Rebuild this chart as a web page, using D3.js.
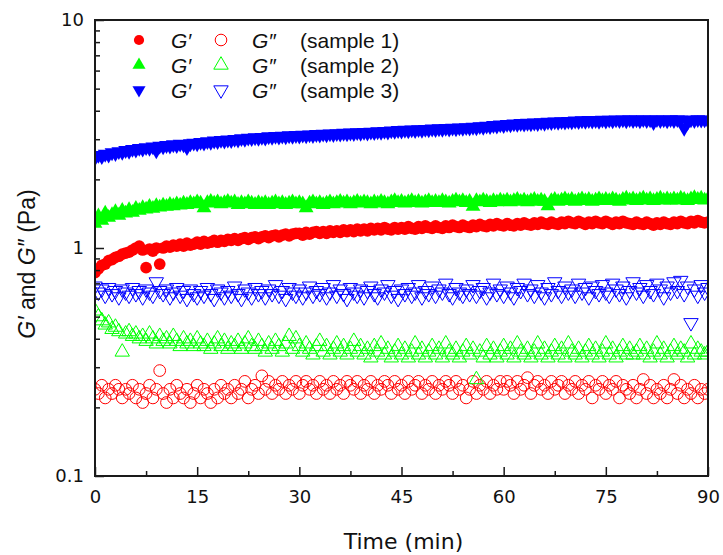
<!DOCTYPE html>
<html>
<head>
<meta charset="utf-8">
<script src="https://cdn.jsdelivr.net/npm/d3@7"></script>
<style>
  html, body { margin: 0; padding: 0; background: #fff; }
  svg { display: block; }
</style>
</head>
<body>
<svg id="chart" width="723" height="555"></svg>
<script>
// ---------------- DATA ----------------
const xTickLabels = [0, 15, 30, 45, 60, 75, 90];
const xMinorTicks = [7.5, 22.5, 37.5, 52.5, 67.5, 82.5];
const yTickLabels = [0.1, 1, 10];
const yMinorTicks = [0.2,0.3,0.4,0.5,0.6,0.7,0.8,0.9,2,3,4,5,6,7,8,9];

// sampling times (min)
const times = [
0,0.5,1,1.5,2,2.5,3,3.5,4,4.5,5,5.5,6,6.5,7,7.5,8,8.5,9,9.5,
10,10.5,11,11.5,12,12.5,13,13.5,14,14.5,15,15.5,16,16.5,17,17.5,18,18.5,19,19.5,
20,20.5,21,21.5,22,22.5,23,23.5,24,24.5,25,25.5,26,26.5,27,27.5,28,28.5,29,29.5,
30,30.5,31,31.5,32,32.5,33,33.5,34,34.5,35,35.5,36,36.5,37,37.5,38,38.5,39,39.5,
40,40.5,41,41.5,42,42.5,43,43.5,44,44.5,45,45.5,46,46.5,47,47.5,48,48.5,49,49.5,
50,50.5,51,51.5,52,52.5,53,53.5,54,54.5,55,55.5,56,56.5,57,57.5,58,58.5,59,59.5,
60,60.5,61,61.5,62,62.5,63,63.5,64,64.5,65,65.5,66,66.5,67,67.5,68,68.5,69,69.5,
70,70.5,71,71.5,72,72.5,73,73.5,74,74.5,75,75.5,76,76.5,77,77.5,78,78.5,79,79.5,
80,80.5,81,81.5,82,82.5,83,83.5,84,84.5,85,85.5,86,86.5,87,87.5,88,88.5,89,89.5,
90];

// sample 1 G' (Pa)
const s1Gp = [
0.78,0.81,0.84,0.85,0.88,0.89,0.91,0.92,0.94,0.95,
0.96,0.98,1.00,1.02,0.98,0.82,0.99,0.97,1.00,0.85,
1.00,1.02,1.01,1.03,1.02,1.04,1.02,1.05,1.03,1.04,
1.06,1.04,1.07,1.05,1.06,1.08,1.06,1.08,1.07,1.09,
1.08,1.10,1.08,1.10,1.11,1.09,1.11,1.12,1.10,1.12,
1.13,1.11,1.13,1.14,1.12,1.14,1.15,1.13,1.15,1.16,
1.16,1.14,1.17,1.15,1.17,1.18,1.16,1.18,1.16,1.19,
1.17,1.19,1.17,1.20,1.18,1.20,1.18,1.21,1.19,1.21,
1.19,1.22,1.20,1.22,1.20,1.23,1.21,1.20,1.23,1.21,
1.23,1.21,1.24,1.22,1.21,1.24,1.22,1.25,1.23,1.22,
1.25,1.23,1.22,1.25,1.23,1.26,1.24,1.23,1.26,1.24,
1.23,1.26,1.24,1.27,1.25,1.24,1.27,1.25,1.28,1.26,
1.25,1.28,1.26,1.25,1.28,1.26,1.29,1.27,1.26,1.29,
1.27,1.30,1.28,1.27,1.30,1.28,1.27,1.30,1.28,1.31,
1.29,1.28,1.31,1.29,1.27,1.30,1.28,1.31,1.29,1.28,
1.31,1.29,1.27,1.30,1.28,1.31,1.29,1.28,1.27,1.30,
1.28,1.27,1.30,1.28,1.26,1.29,1.27,1.30,1.28,1.27,
1.30,1.28,1.31,1.29,1.28,1.31,1.29,1.32,1.30,1.29,
1.30];

// sample 1 G'' (Pa)
const s1Gpp = [
0.24,0.23,0.25,0.22,0.24,0.23,0.25,0.24,0.22,0.24,
0.23,0.25,0.22,0.24,0.21,0.23,0.25,0.22,0.24,0.29,
0.23,0.21,0.24,0.22,0.25,0.23,0.22,0.24,0.21,0.23,
0.25,0.22,0.24,0.23,0.21,0.24,0.22,0.25,0.23,0.24,
0.22,0.25,0.23,0.24,0.26,0.22,0.24,0.25,0.23,0.275,
0.24,0.26,0.23,0.25,0.24,0.26,0.23,0.25,0.24,0.26,
0.23,0.25,0.26,0.24,0.25,0.23,0.26,0.24,0.25,0.23,
0.26,0.24,0.25,0.23,0.26,0.25,0.24,0.26,0.23,0.25,
0.24,0.26,0.23,0.25,0.24,0.26,0.25,0.23,0.26,0.24,
0.25,0.23,0.26,0.24,0.25,0.26,0.23,0.25,0.24,0.26,
0.23,0.25,0.24,0.26,0.25,0.23,0.26,0.24,0.25,0.22,
0.24,0.26,0.23,0.25,0.24,0.26,0.23,0.25,0.24,0.26,
0.24,0.26,0.25,0.23,0.26,0.24,0.25,0.27,0.23,0.25,
0.26,0.24,0.25,0.23,0.26,0.24,0.25,0.26,0.23,0.25,
0.24,0.26,0.23,0.25,0.24,0.26,0.22,0.25,0.24,0.26,
0.23,0.25,0.24,0.26,0.22,0.25,0.24,0.23,0.25,0.22,
0.24,0.265,0.23,0.25,0.22,0.24,0.23,0.25,0.22,0.24,
0.265,0.23,0.25,0.22,0.24,0.23,0.25,0.22,0.24,0.23,
0.24];

// sample 2 G' (Pa)
const s2Gp = [
1.28,1.38,1.32,1.42,1.36,1.40,1.44,1.39,1.46,1.42,
1.47,1.43,1.49,1.46,1.50,1.48,1.52,1.49,1.53,1.51,
1.54,1.52,1.55,1.53,1.56,1.54,1.57,1.55,1.58,1.56,
1.59,1.57,1.50,1.58,1.60,1.57,1.59,1.56,1.58,1.60,
1.57,1.59,1.55,1.58,1.56,1.59,1.57,1.55,1.58,1.56,
1.58,1.55,1.57,1.59,1.56,1.58,1.55,1.57,1.59,1.56,
1.58,1.56,1.50,1.57,1.59,1.56,1.58,1.55,1.57,1.59,
1.56,1.58,1.60,1.57,1.59,1.56,1.58,1.60,1.57,1.59,
1.58,1.56,1.59,1.57,1.60,1.58,1.56,1.59,1.61,1.58,
1.60,1.57,1.59,1.61,1.58,1.60,1.57,1.59,1.61,1.58,
1.60,1.58,1.61,1.59,1.57,1.60,1.62,1.59,1.61,1.58,
1.60,1.52,1.61,1.59,1.62,1.60,1.58,1.61,1.59,1.62,
1.60,1.62,1.59,1.61,1.63,1.60,1.62,1.59,1.61,1.63,
1.60,1.62,1.60,1.53,1.61,1.63,1.60,1.62,1.64,1.61,
1.63,1.60,1.62,1.64,1.61,1.63,1.60,1.62,1.64,1.61,
1.63,1.61,1.64,1.62,1.60,1.63,1.65,1.62,1.64,1.61,
1.63,1.65,1.62,1.64,1.61,1.63,1.65,1.62,1.64,1.62,
1.64,1.62,1.65,1.63,1.61,1.64,1.66,1.63,1.65,1.62,
1.64];

// sample 2 G'' (Pa)
const s2Gpp = [
0.53,0.50,0.48,0.46,0.47,0.44,0.45,0.43,0.35,0.42,
0.43,0.41,0.42,0.40,0.41,0.39,0.42,0.40,0.38,0.41,
0.39,0.40,0.38,0.41,0.39,0.37,0.40,0.38,0.39,0.37,
0.40,0.38,0.37,0.39,0.36,0.38,0.40,0.37,0.39,0.36,
0.38,0.37,0.39,0.36,0.38,0.40,0.37,0.36,0.39,0.37,
0.35,0.38,0.36,0.39,0.37,0.35,0.38,0.41,0.36,0.40,
0.37,0.35,0.38,0.36,0.34,0.37,0.39,0.35,0.37,0.34,
0.36,0.38,0.35,0.37,0.34,0.36,0.39,0.35,0.37,0.34,
0.36,0.33,0.37,0.35,0.38,0.34,0.36,0.33,0.35,0.37,
0.34,0.36,0.33,0.35,0.38,0.34,0.36,0.33,0.35,0.37,
0.34,0.36,0.33,0.38,0.35,0.34,0.36,0.33,0.35,0.37,
0.34,0.36,0.265,0.35,0.33,0.37,0.34,0.36,0.33,0.35,
0.37,0.34,0.36,0.33,0.38,0.35,0.34,0.36,0.33,0.35,
0.38,0.34,0.36,0.33,0.35,0.37,0.34,0.36,0.33,0.38,
0.35,0.34,0.36,0.33,0.35,0.37,0.34,0.36,0.33,0.35,
0.38,0.34,0.36,0.33,0.35,0.37,0.34,0.36,0.34,0.35,
0.37,0.34,0.36,0.33,0.35,0.38,0.34,0.36,0.33,0.35,
0.37,0.34,0.36,0.35,0.33,0.38,0.34,0.36,0.35,0.34,
0.35];

// sample 3 G' (Pa)
const s3Gp = [
2.48,2.55,2.52,2.58,2.56,2.62,2.60,2.65,2.63,2.68,
2.66,2.71,2.69,2.74,2.72,2.76,2.74,2.78,2.67,2.80,
2.78,2.82,2.80,2.84,2.82,2.86,2.84,2.76,2.87,2.89,
2.87,2.91,2.89,2.93,2.91,2.95,2.93,2.97,2.95,2.98,
2.96,3.00,2.98,3.02,3.00,3.04,3.02,3.05,3.03,3.06,
3.04,3.08,3.06,3.09,3.07,3.10,3.08,3.11,3.09,3.12,
3.10,3.13,3.11,3.14,3.12,3.15,3.13,3.16,3.14,3.17,
3.15,3.18,3.16,3.19,3.17,3.20,3.18,3.21,3.19,3.22,
3.20,3.23,3.21,3.24,3.22,3.25,3.23,3.27,3.25,3.28,
3.26,3.29,3.27,3.30,3.28,3.31,3.29,3.32,3.30,3.33,
3.31,3.34,3.32,3.35,3.33,3.36,3.34,3.37,3.35,3.38,
3.36,3.39,3.37,3.41,3.39,3.43,3.41,3.45,3.43,3.47,
3.45,3.49,3.47,3.51,3.49,3.52,3.50,3.53,3.51,3.54,
3.52,3.55,3.53,3.57,3.55,3.58,3.56,3.59,3.57,3.60,
3.58,3.61,3.59,3.62,3.60,3.63,3.61,3.63,3.60,3.64,
3.61,3.64,3.62,3.65,3.63,3.65,3.62,3.66,3.63,3.65,
3.62,3.66,3.63,3.65,3.55,3.66,3.63,3.65,3.62,3.66,
3.63,3.66,3.64,3.35,3.55,3.65,3.63,3.66,3.64,3.65,
3.63];

// sample 3 G'' (Pa)
const s3Gpp = [
0.68,0.64,0.66,0.62,0.67,0.63,0.65,0.61,0.66,0.64,
0.62,0.67,0.63,0.65,0.61,0.66,0.64,0.62,0.71,0.65,
0.63,0.66,0.61,0.64,0.67,0.62,0.65,0.60,0.66,0.63,
0.61,0.65,0.62,0.67,0.63,0.60,0.66,0.64,0.61,0.65,
0.62,0.68,0.63,0.60,0.66,0.64,0.61,0.67,0.63,0.65,
0.61,0.66,0.63,0.69,0.62,0.65,0.60,0.67,0.64,0.62,
0.66,0.61,0.64,0.68,0.62,0.65,0.63,0.67,0.61,0.64,
0.69,0.62,0.66,0.63,0.60,0.67,0.64,0.62,0.66,0.61,
0.65,0.68,0.63,0.61,0.66,0.64,0.69,0.62,0.65,0.60,
0.66,0.63,0.67,0.62,0.64,0.69,0.61,0.65,0.63,0.68,
0.62,0.66,0.64,0.70,0.63,0.61,0.67,0.64,0.62,0.66,
0.63,0.69,0.62,0.65,0.67,0.61,0.64,0.70,0.63,0.66,
0.62,0.68,0.64,0.61,0.67,0.65,0.70,0.63,0.66,0.62,
0.69,0.64,0.61,0.67,0.63,0.71,0.65,0.62,0.68,0.64,
0.66,0.62,0.70,0.64,0.67,0.61,0.68,0.65,0.63,0.69,
0.64,0.62,0.70,0.66,0.63,0.68,0.61,0.65,0.71,0.64,
0.67,0.62,0.69,0.65,0.63,0.70,0.66,0.61,0.68,0.64,
0.71,0.65,0.72,0.63,0.68,0.47,0.66,0.62,0.69,0.64,
0.67];

const legendLabels = ["(sample 1)", "(sample 2)", "(sample 3)"];
const sampleColors = ["#ff0000", "#00ff00", "#0000ff"];

// ---------------- CHART ----------------
const svg = d3.select("#chart");
const W = 723, H = 555;
const m = { left: 95, right: 15, top: 20, bottom: 79 };
const x = d3.scaleLinear().domain([0, 90]).range([m.left, W - m.right]);
const y = d3.scaleLog().domain([0.1, 10]).range([H - m.bottom, m.top]);

const tickFont = "'DejaVu Sans', Verdana, sans-serif";
const textFont = "'Liberation Sans', Arial, sans-serif";

svg.append("defs").append("clipPath").attr("id", "clip")
  .append("rect")
  .attr("x", x(0)).attr("y", y(10))
  .attr("width", x(90) - x(0)).attr("height", y(0.1) - y(10));

const series = [
  { vals: s1Gpp, shape: "circle", filled: false, color: sampleColors[0] },
  { vals: s2Gpp, shape: "up", filled: false, color: sampleColors[1] },
  { vals: s3Gpp, shape: "down", filled: false, color: sampleColors[2] },
  { vals: s1Gp, shape: "circle", filled: true, color: sampleColors[0] },
  { vals: s2Gp, shape: "up", filled: true, color: sampleColors[1] },
  { vals: s3Gp, shape: "down", filled: true, color: sampleColors[2] }
];

// symbol areas: [data, legend]
function symPath(shape, filled, legend) {
  if (shape === "circle") return d3.symbol(d3.symbolCircle, filled ? (legend ? 82 : 108) : (legend ? 106 : 108))();
  return d3.symbol(d3.symbolTriangle, filled ? (legend ? 74 : 95) : 90)();
}

const plot = svg.append("g").attr("clip-path", "url(#clip)");
series.forEach(s => {
  const p = symPath(s.shape, s.filled, false);
  plot.append("g").selectAll("path")
    .data(s.vals.map((v, i) => [times[i], v]))
    .join("path")
    .attr("d", p)
    .attr("transform", d => `translate(${x(d[0])},${y(d[1])})` + (s.shape === "down" ? " rotate(180)" : ""))
    .attr("fill", s.filled ? s.color : "none")
    .attr("stroke", s.filled ? "none" : s.color)
    .attr("stroke-width", 1);
});

// axes
const axisColor = "#1a1a1a";
const xAxis = svg.append("g").attr("transform", `translate(0,${y(0.1)})`)
  .call(d3.axisBottom(x).tickValues(xTickLabels).tickSize(-9).tickPadding(14).tickFormat(d3.format("d")));
const xMinor = svg.append("g").attr("transform", `translate(0,${y(0.1)})`)
  .call(d3.axisBottom(x).tickValues(xMinorTicks).tickSize(-5).tickFormat(""));
const yAxis = svg.append("g").attr("transform", `translate(${x(0)},0)`)
  .call(d3.axisLeft(y).tickValues(yTickLabels).tickSize(-9).tickPadding(11).tickFormat(d => d === 0.1 ? "0.1" : String(d)));
const yMinor = svg.append("g").attr("transform", `translate(${x(0)},0)`)
  .call(d3.axisLeft(y).tickValues(yMinorTicks).tickSize(-5).tickFormat(""));

[xAxis, xMinor, yAxis, yMinor].forEach(g => {
  g.select(".domain").remove();
  g.selectAll(".tick line").attr("stroke", axisColor).attr("stroke-width", 1.5);
  g.selectAll(".tick text").attr("fill", "#111").style("font-family", tickFont).style("font-size", "18px");
});

svg.append("rect")
  .attr("x", x(0)).attr("y", y(10))
  .attr("width", x(90) - x(0)).attr("height", y(0.1) - y(10))
  .attr("fill", "none").attr("stroke", axisColor).attr("stroke-width", 2);

// axis titles
svg.append("text")
  .attr("x", (x(0) + x(90)) / 2 + 2).attr("y", 549)
  .attr("text-anchor", "middle")
  .style("font-family", tickFont).style("font-size", "22px").attr("fill", "#111")
  .text("Time (min)");

const yl = svg.append("text")
  .attr("transform", `translate(35,${264}) rotate(-90)`)
  .attr("text-anchor", "middle")
  .style("font-family", textFont).style("font-size", "23px").attr("fill", "#111");
yl.append("tspan").style("font-style", "italic").text("G′");
yl.append("tspan").text(" and ");
yl.append("tspan").style("font-style", "italic").text("G″");
yl.append("tspan").text(" (Pa)");

// legend
const legY = [40, 65, 90];
const shapes = ["circle", "up", "down"];
const leg = svg.append("g");
const legFont = "21px";
legY.forEach((ly, i) => {
  const c = sampleColors[i];
  const sh = shapes[i];
  const rot = sh === "down" ? " rotate(180)" : "";
  leg.append("path").attr("d", symPath(sh, true, true))
    .attr("transform", `translate(139,${ly})${rot}`).attr("fill", c);
  leg.append("text").attr("x", 171).attr("y", ly + 7.5)
    .style("font-family", textFont).style("font-size", legFont).style("font-style", "italic")
    .attr("fill", "#111").text("G′");
  leg.append("path").attr("d", symPath(sh, false, true))
    .attr("transform", `translate(221,${ly})${rot}`)
    .attr("fill", "none").attr("stroke", c).attr("stroke-width", 1);
  leg.append("text").attr("x", 252).attr("y", ly + 7.5)
    .style("font-family", textFont).style("font-size", legFont).style("font-style", "italic")
    .attr("fill", "#111").text("G″");
  leg.append("text").attr("x", 300).attr("y", ly + 7.5)
    .style("font-family", textFont).style("font-size", legFont)
    .attr("fill", "#111").text(legendLabels[i]);
});
</script>
</body>
</html>
